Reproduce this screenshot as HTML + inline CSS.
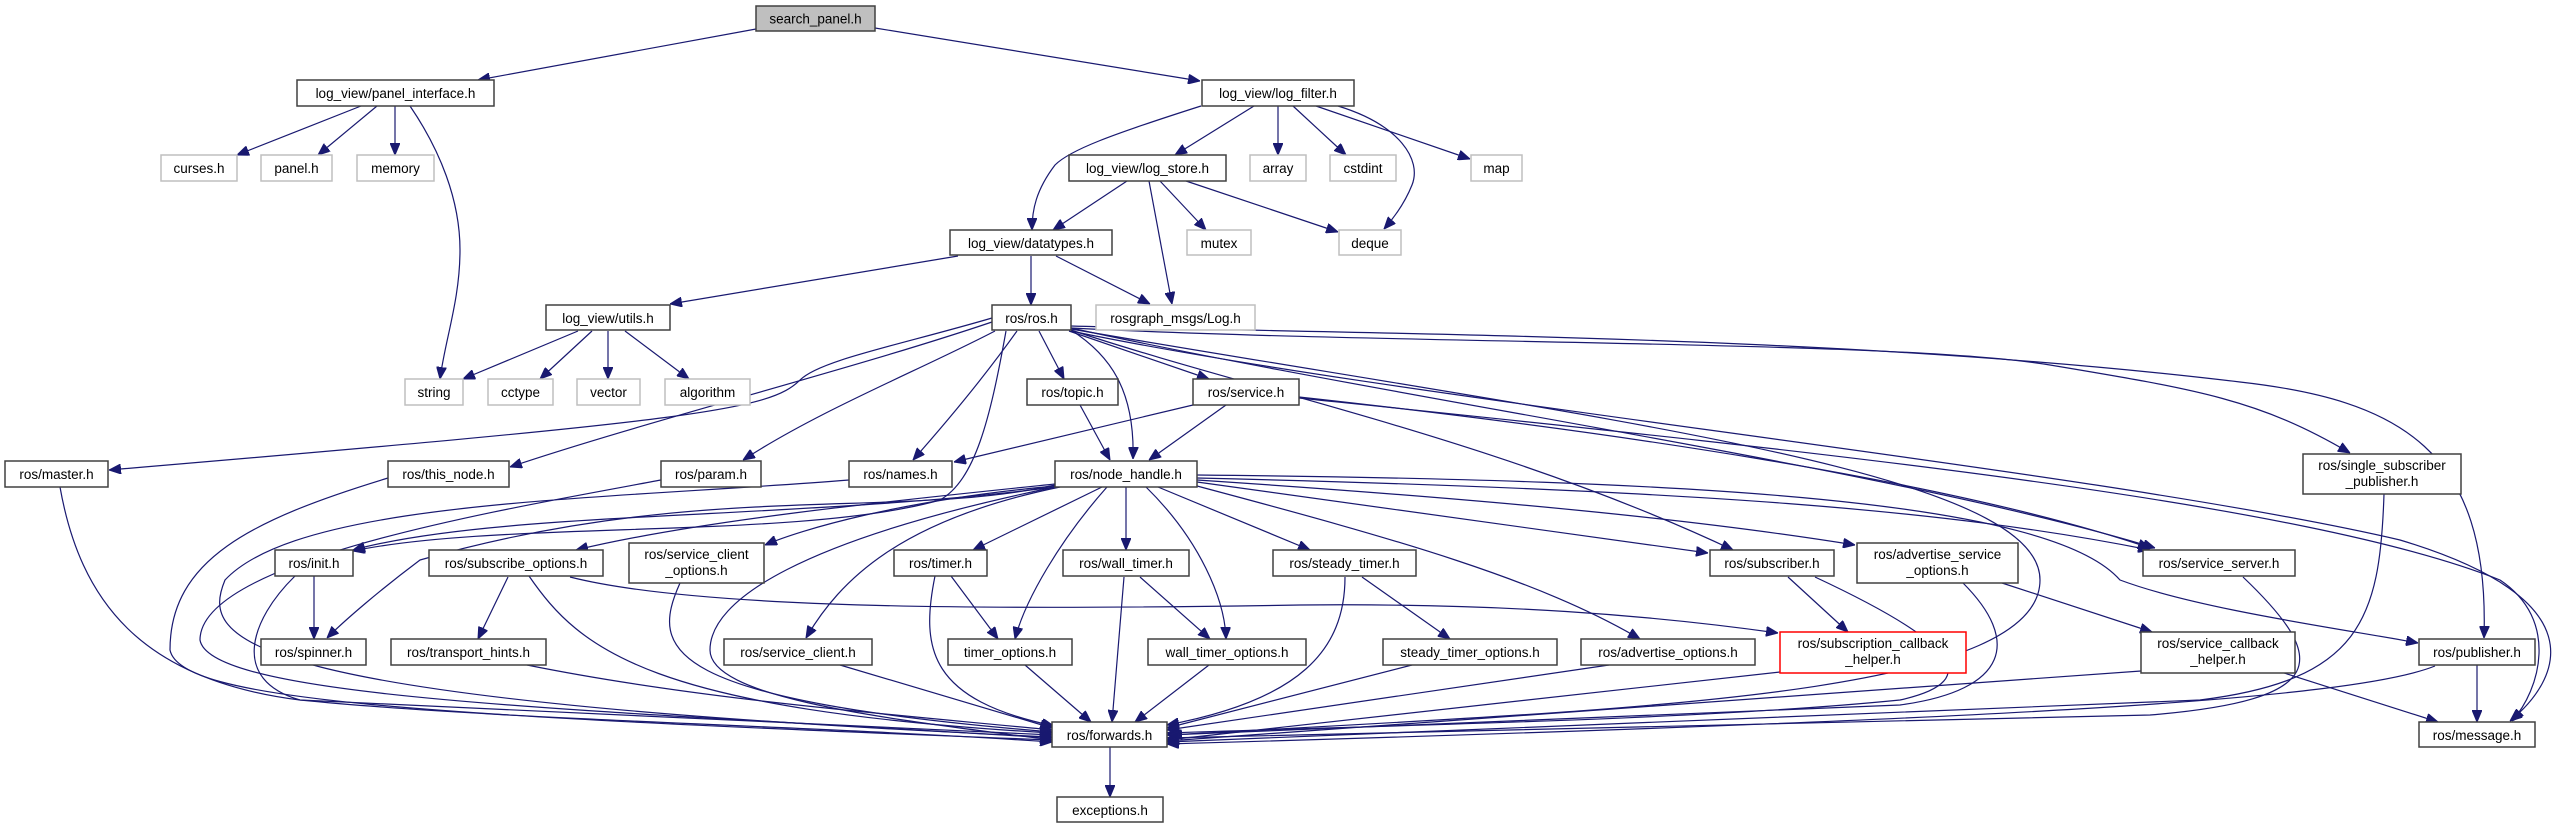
<!DOCTYPE html>
<html><head><meta charset="utf-8"><style>
html,body{margin:0;padding:0;background:#fff;}
svg{display:block}
text{font-family:"Liberation Sans",sans-serif;font-size:13.5px;fill:#000;text-anchor:middle}
.n{fill:#fff;stroke:#404040;stroke-width:1.5}
.g{fill:#fff;stroke:#bfbfbf;stroke-width:1.5}
.r{fill:#fff;stroke:#ff0000;stroke-width:1.5}
path.e{fill:none;stroke:#191970;stroke-width:1.2;marker-end:url(#a)}
</style></head><body>
<svg width="2565" height="828" viewBox="0 0 2565 828" xmlns="http://www.w3.org/2000/svg">
<defs><marker id="a" markerUnits="userSpaceOnUse" markerWidth="12" markerHeight="10" refX="12" refY="5" orient="auto"><path d="M0,0 L12,5 L0,10 z" fill="#191970" stroke="#191970"/></marker></defs>
<g>
<path class="e" d="M756,29 L478,80"/>
<path class="e" d="M875,28 L1200,81"/>
<path class="e" d="M361,106 L237,155"/>
<path class="e" d="M377,106 L318,155"/>
<path class="e" d="M395,106 L395,155"/>
<path class="e" d="M410,106 C440,150 460,200 460,250 C460,300 445,340 440,379"/>
<path class="e" d="M1201,106 C1110,135 1070,150 1055,165 C1036,190 1032,210 1032,230"/>
<path class="e" d="M1254,106 L1175,155"/>
<path class="e" d="M1278,106 L1278,155"/>
<path class="e" d="M1293,106 L1346,155"/>
<path class="e" d="M1316,106 L1470,159"/>
<path class="e" d="M1338,106 C1400,125 1422,160 1412,185 C1404,205 1392,220 1384,229"/>
<path class="e" d="M1127,181 L1053,230"/>
<path class="e" d="M1149,181 L1172,304"/>
<path class="e" d="M1160,181 L1206,230"/>
<path class="e" d="M1186,181 L1338,232"/>
<path class="e" d="M958,256 L670,304"/>
<path class="e" d="M1031,256 L1031,305"/>
<path class="e" d="M1056,256 L1150,304"/>
<path class="e" d="M578,331 L463,379"/>
<path class="e" d="M592,331 L540,379"/>
<path class="e" d="M608,331 L608,379"/>
<path class="e" d="M625,331 L689,379"/>
<path class="e" d="M1039,331 L1064,379"/>
<path class="e" d="M1069,331 L1209,379"/>
<path class="e" d="M1071,330 C1110,355 1135,390 1133,459"/>
<path class="e" d="M1080,405 L1110,460"/>
<path class="e" d="M1226,405 L1149,460"/>
<path class="e" d="M1193,405 L954,462"/>
<path class="e" d="M1017,331 Q975,390 913,460"/>
<path class="e" d="M1006,331 C990,420 975,480 940,500 C800,540 500,520 353,551"/>
<path class="e" d="M995,331 C920,370 820,410 743,460"/>
<path class="e" d="M992,322 C850,370 650,420 510,467"/>
<path class="e" d="M992,318 C900,345 820,360 800,380 C770,410 700,420 109,470"/>
<path class="e" d="M1071,330 C1250,390 1500,440 1733,550"/>
<path class="e" d="M1071,328 C1400,400 1900,470 2155,548"/>
<path class="e" d="M1071,329 C1600,420 2040,470 2040,580 C2040,700 1600,710 1170,735"/>
<path class="e" d="M1071,328 C1400,345 1900,340 2050,365 C2200,390 2260,400 2350,453"/>
<path class="e" d="M1071,326 C1400,335 1850,335 2240,382 C2400,400 2490,450 2484,638"/>
<path class="e" d="M1071,331 C1400,400 2100,470 2400,540 C2600,600 2560,680 2510,721"/>
<path class="e" d="M1299,397 C1600,430 1950,480 2150,548"/>
<path class="e" d="M1299,398 C1800,450 2300,500 2500,580 C2560,620 2540,690 2512,721"/>
<path class="e" d="M1102,487 L973,550"/>
<path class="e" d="M1107,487 C1060,540 1025,600 1015,639"/>
<path class="e" d="M1126,487 L1126,550"/>
<path class="e" d="M1146,487 C1200,540 1225,600 1226,639"/>
<path class="e" d="M1158,487 L1310,550"/>
<path class="e" d="M1197,486 C1400,540 1540,580 1640,639"/>
<path class="e" d="M1197,482 L1708,553"/>
<path class="e" d="M1197,480 C1500,500 1700,520 1855,545"/>
<path class="e" d="M1197,478 C1700,490 1950,510 2150,550"/>
<path class="e" d="M1197,475 C1700,480 2050,500 2120,580 C2200,610 2350,630 2418,643"/>
<path class="e" d="M1055,487 C800,520 500,510 353,550"/>
<path class="e" d="M1055,485 C900,520 700,480 420,560 C380,590 345,620 327,638"/>
<path class="e" d="M1055,484 C900,500 700,520 576,550"/>
<path class="e" d="M1055,486 C900,500 800,530 765,545"/>
<path class="e" d="M1060,487 C900,520 840,580 806,638"/>
<path class="e" d="M1055,487 C800,540 710,600 710,650 C710,700 900,720 1052,740"/>
<path class="e" d="M60,487 C80,600 140,680 300,700 C500,720 800,725 1052,742"/>
<path class="e" d="M388,478 C250,520 170,560 170,650 C180,700 400,715 1052,740"/>
<path class="e" d="M661,480 C500,510 200,560 200,640 C210,700 600,710 1052,738"/>
<path class="e" d="M849,480 C600,500 300,500 225,580 C200,640 230,700 1052,737"/>
<path class="e" d="M295,576 C250,620 230,680 300,700 L1052,735"/>
<path class="e" d="M314,576 L314,639"/>
<path class="e" d="M529,576 C580,650 650,710 1052,733"/>
<path class="e" d="M508,577 L478,639"/>
<path class="e" d="M680,583 C650,650 660,700 1052,732"/>
<path class="e" d="M840,665 L1052,728"/>
<path class="e" d="M527,665 C700,700 900,715 1052,730"/>
<path class="e" d="M935,576 C920,650 930,700 1054,726"/>
<path class="e" d="M951,576 L998,639"/>
<path class="e" d="M1025,665 L1091,722"/>
<path class="e" d="M1124,577 L1112,722"/>
<path class="e" d="M1140,577 L1210,639"/>
<path class="e" d="M1209,665 L1135,722"/>
<path class="e" d="M1345,577 C1345,650 1300,700 1167,725"/>
<path class="e" d="M1362,577 L1450,639"/>
<path class="e" d="M1412,665 L1167,728"/>
<path class="e" d="M1609,665 L1167,730"/>
<path class="e" d="M1788,577 L1848,632"/>
<path class="e" d="M1815,577 C1950,640 1990,680 1900,700 C1700,720 1400,725 1167,733"/>
<path class="e" d="M570,577 C700,610 1000,610 1300,605 C1500,603 1650,615 1778,633"/>
<path class="e" d="M2002,583 L2152,632"/>
<path class="e" d="M1963,583 C2020,640 2010,690 1900,705 L1167,735"/>
<path class="e" d="M2243,577 C2330,660 2330,700 2150,715 L1167,738"/>
<path class="e" d="M1780,672 L1167,740"/>
<path class="e" d="M2141,671 L1167,741"/>
<path class="e" d="M2281,672 L2438,722"/>
<path class="e" d="M2384,494 C2380,620 2360,680 2200,700 L1167,742"/>
<path class="e" d="M2435,666 C2350,700 2000,720 1167,744"/>
<path class="e" d="M2477,665 L2477,722"/>
<path class="e" d="M1110,747 L1110,797"/>
</g>
<g>
<rect x="756" y="6" width="119" height="25" fill="#bfbfbf" stroke="#404040" stroke-width="1.5"/><text x="815.5" y="23.5">search_panel.h</text>
<rect class="n" x="297" y="80" width="197" height="26"/><text x="395.5" y="98">log_view/panel_interface.h</text>
<rect class="g" x="161" y="155" width="76" height="26"/><text x="199" y="173">curses.h</text>
<rect class="g" x="261" y="155" width="71" height="26"/><text x="296.5" y="173">panel.h</text>
<rect class="g" x="357" y="155" width="77" height="26"/><text x="395.5" y="173">memory</text>
<rect class="n" x="1202" y="80" width="152" height="26"/><text x="1278" y="98">log_view/log_filter.h</text>
<rect class="n" x="1069" y="155" width="157" height="26"/><text x="1147.5" y="173">log_view/log_store.h</text>
<rect class="g" x="1250" y="155" width="56" height="26"/><text x="1278" y="173">array</text>
<rect class="g" x="1330" y="155" width="66" height="26"/><text x="1363" y="173">cstdint</text>
<rect class="g" x="1471" y="155" width="51" height="26"/><text x="1496.5" y="173">map</text>
<rect class="n" x="950" y="230" width="162" height="25"/><text x="1031" y="248">log_view/datatypes.h</text>
<rect class="g" x="1187" y="230" width="64" height="25"/><text x="1219" y="248">mutex</text>
<rect class="g" x="1339" y="230" width="62" height="25"/><text x="1370" y="248">deque</text>
<rect class="n" x="546" y="305" width="124" height="25"/><text x="608" y="323">log_view/utils.h</text>
<rect class="n" x="992" y="305" width="79" height="25"/><text x="1031.5" y="323">ros/ros.h</text>
<rect class="g" x="1096" y="305" width="159" height="25"/><text x="1175.5" y="323">rosgraph_msgs/Log.h</text>
<rect class="g" x="405" y="379" width="58" height="26"/><text x="434" y="397">string</text>
<rect class="g" x="488" y="379" width="65" height="26"/><text x="520.5" y="397">cctype</text>
<rect class="g" x="577" y="379" width="63" height="26"/><text x="608.5" y="397">vector</text>
<rect class="g" x="665" y="379" width="85" height="26"/><text x="707.5" y="397">algorithm</text>
<rect class="n" x="1027" y="379" width="91" height="26"/><text x="1072.5" y="397">ros/topic.h</text>
<rect class="n" x="1193" y="379" width="106" height="26"/><text x="1246" y="397">ros/service.h</text>
<rect class="n" x="5" y="461" width="103" height="26"/><text x="56.5" y="479">ros/master.h</text>
<rect class="n" x="388" y="461" width="121" height="26"/><text x="448.5" y="479">ros/this_node.h</text>
<rect class="n" x="661" y="461" width="100" height="26"/><text x="711" y="479">ros/param.h</text>
<rect class="n" x="849" y="461" width="103" height="26"/><text x="900.5" y="479">ros/names.h</text>
<rect class="n" x="1055" y="461" width="142" height="26"/><text x="1126" y="479">ros/node_handle.h</text>
<rect class="n" x="2303" y="454" width="158" height="40"/><text x="2382" y="470">ros/single_subscriber</text><text x="2382" y="486">_publisher.h</text>
<rect class="n" x="275" y="550" width="78" height="26"/><text x="314" y="568">ros/init.h</text>
<rect class="n" x="429" y="550" width="174" height="26"/><text x="516" y="568">ros/subscribe_options.h</text>
<rect class="n" x="629" y="543" width="135" height="40"/><text x="696.5" y="559">ros/service_client</text><text x="696.5" y="575">_options.h</text>
<rect class="n" x="894" y="550" width="93" height="26"/><text x="940.5" y="568">ros/timer.h</text>
<rect class="n" x="1063" y="550" width="126" height="26"/><text x="1126" y="568">ros/wall_timer.h</text>
<rect class="n" x="1273" y="550" width="143" height="26"/><text x="1344.5" y="568">ros/steady_timer.h</text>
<rect class="n" x="1710" y="550" width="124" height="26"/><text x="1772" y="568">ros/subscriber.h</text>
<rect class="n" x="1857" y="543" width="161" height="40"/><text x="1937.5" y="559">ros/advertise_service</text><text x="1937.5" y="575">_options.h</text>
<rect class="n" x="2143" y="550" width="152" height="26"/><text x="2219" y="568">ros/service_server.h</text>
<rect class="n" x="261" y="639" width="105" height="26"/><text x="313.5" y="657">ros/spinner.h</text>
<rect class="n" x="391" y="639" width="155" height="26"/><text x="468.5" y="657">ros/transport_hints.h</text>
<rect class="n" x="724" y="639" width="148" height="26"/><text x="798" y="657">ros/service_client.h</text>
<rect class="n" x="948" y="639" width="124" height="26"/><text x="1010" y="657">timer_options.h</text>
<rect class="n" x="1148" y="639" width="158" height="26"/><text x="1227" y="657">wall_timer_options.h</text>
<rect class="n" x="1383" y="639" width="174" height="26"/><text x="1470" y="657">steady_timer_options.h</text>
<rect class="n" x="1581" y="639" width="174" height="26"/><text x="1668" y="657">ros/advertise_options.h</text>
<rect class="r" x="1780" y="632" width="186" height="41"/><text x="1873" y="648">ros/subscription_callback</text><text x="1873" y="664">_helper.h</text>
<rect class="n" x="2141" y="632" width="154" height="41"/><text x="2218" y="648">ros/service_callback</text><text x="2218" y="664">_helper.h</text>
<rect class="n" x="2419" y="639" width="116" height="26"/><text x="2477" y="657">ros/publisher.h</text>
<rect class="n" x="1052" y="722" width="115" height="25"/><text x="1109.5" y="740">ros/forwards.h</text>
<rect class="n" x="2419" y="722" width="116" height="25"/><text x="2477" y="740">ros/message.h</text>
<rect class="n" x="1057" y="797" width="106" height="25"/><text x="1110" y="815">exceptions.h</text>
</g>
</svg>
</body></html>
